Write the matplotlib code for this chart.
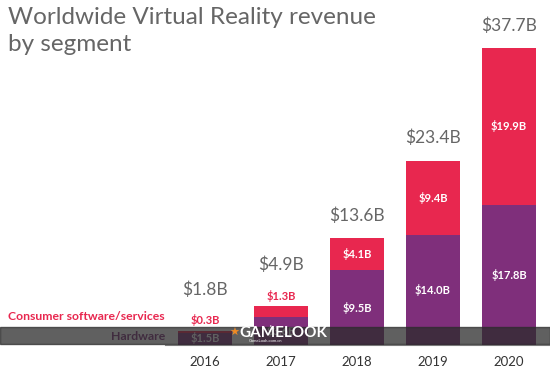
import matplotlib.pyplot as plt
from matplotlib.patches import Rectangle

years = ['2016', '2017', '2018', '2019', '2020']
hardware = [1.5, 3.6, 9.5, 14.0, 17.8]
software = [0.3, 1.3, 4.1, 9.4, 19.9]
totals = [1.8, 4.9, 13.6, 23.4, 37.7]

purple = '#7f2f7b'
red = '#e8274f'
gray = '#666666'

plt.rcParams['font.family'] = ['Lato', 'DejaVu Sans']

fig = plt.figure(figsize=(5.5, 3.8), dpi=100)
ax = fig.add_axes([0, 0, 1, 1])
# map data coords to pixel layout: bar i centred at 205 + 76*i px, baseline at 345 px
ppu = 7.88
ax.set_xlim(-205 / 76, (550 - 205) / 76)
ax.set_ylim(-(380 - 345) / ppu, 345 / ppu)
ax.axis('off')

x = list(range(len(years)))
ax.bar(x, hardware, width=0.71, color=purple, zorder=2)
ax.bar(x, software, width=0.71, bottom=hardware, color=red, zorder=2)

for i in x:
    small = software[i] < 3
    gap = 4.2 if small else 1.8
    ax.text(i, totals[i] + gap, f'${totals[i]}B', ha='center', va='bottom',
            fontsize=12.5, color=gray)
    ax.text(i, -1.4, years[i], ha='center', va='top', fontsize=9.5, color='#333333')
    if small:
        ax.text(i, totals[i] + 0.6, f'${software[i]}B', ha='center', va='bottom',
                fontsize=8, color=red, fontweight='bold')
    else:
        ax.text(i, hardware[i] + software[i] / 2, f'${software[i]}B', ha='center',
                va='center', fontsize=8, color='white', fontweight='bold')
    ax.text(i, max(hardware[i] / 2, 0.9), f'${hardware[i]}B', ha='center',
            va='center', fontsize=8, color='white', fontweight='bold', zorder=3)

# baseline
ax.plot([(165 - 205) / 76, 4.6], [0, 0], color='#888888', lw=0.8, zorder=1)

fig.text(0.015, 1 - 7 / 380, 'Worldwide Virtual Reality revenue\nby segment', ha='left',
         va='top', fontsize=17.5, color=gray, linespacing=1.35)

fig.text(165 / 550, 1 - 316 / 380, 'Consumer software/services', ha='right', va='center',
         fontsize=8.8, color=red, fontweight='bold')
fig.text(165 / 550, 1 - 336 / 380, 'Hardware', ha='right', va='center',
         fontsize=8.8, color=purple, fontweight='bold')

# watermark band
fig.patches.append(Rectangle((0, 1 - 344 / 380), 1, 17 / 380, transform=fig.transFigure,
                             color='#2b2b2b', alpha=0.75, zorder=5))
fig.text(229 / 550, 1 - 333 / 380, '\u2605', ha='left', va='center', fontsize=8,
         color='#f08a24', zorder=6, family='DejaVu Sans')
fig.text(239 / 550, 1 - 333 / 380, 'GAMELOOK', ha='left', va='center', fontsize=11,
         color='white', fontweight='bold', zorder=6)
fig.text(249 / 550, 1 - 341 / 380, 'GameLook.com.cn', ha='left', va='center', fontsize=3,
         color='white', zorder=6)

fig.savefig('out.png', dpi=100)
